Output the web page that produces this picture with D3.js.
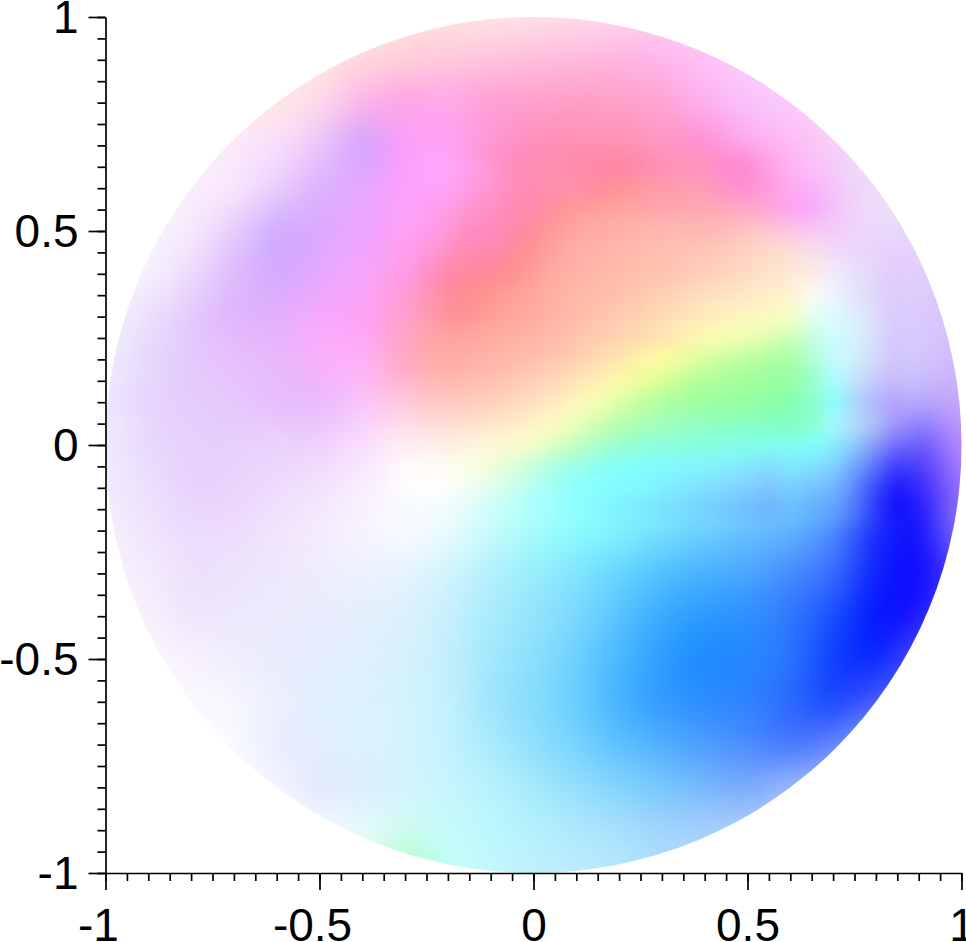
<!DOCTYPE html>
<html><head><meta charset="utf-8">
<script src="https://cdn.jsdelivr.net/npm/d3@7/dist/d3.min.js"></script>
<style>html,body{margin:0;background:#fff}svg{display:block}
.axis text{font-family:"Liberation Sans",Arial,sans-serif;font-size:46px;fill:#000}
.axis path,.axis line{stroke:#000;stroke-width:1.7px}</style></head>
<body><svg id="c" width="966" height="942"></svg>
<script>
const gridX = d3.range(-10, 11).map(d => d / 10);
const gridY = d3.range(10, -11, -1).map(d => d / 10);
const fineX = d3.range(-6, 18).map(d => d / 20);
const fineY = d3.range(13, -4, -1).map(d => d / 20);
const majorTicks = [-1, -0.5, 0, 0.5, 1];
const minorTicks = d3.range(-20, 21).map(d => d / 20);
// colour of the field read at every coarse node (row: y = 1 ... -1, column: x = -1 ... 1)
const colors = [
["#fff4f0","#fff4f0","#fff2ee","#fff0ea","#ffeee6","#ffece2","#ffe8e0","#ffe4de","#ffe2e0","#ffe4e6","#ffe4e8","#ffdce8","#ffd8ec","#ffd0f0","#ffccf8","#fcd0fc","#f8d8fc","#f6dafa","#f4dcf8","#f2dcf8","#f0dcf8"],
["#fff2f0","#fff2f0","#fff0ec","#ffeee8","#ffece4","#ffe8e0","#ffd8dc","#ffd0d8","#ffc8dc","#ffc4dc","#ffbcdc","#ffb8dc","#ffb4e0","#ffb4ec","#ffc4f8","#fccdfc","#f8d4fa","#f6d8f8","#f4dcf8","#f2dcf8","#f0dcf8"],
["#fff2f0","#fff0ee","#ffeeea","#ffece6","#ffe8e4","#ffdcec","#ffb0e8","#ffa0e4","#ffa8ec","#ff9cd4","#ffa0cc","#ff9cc4","#ffa0c8","#ffa4d0","#ffb0f4","#f8c4fc","#f8ccfc","#f8d4f8","#f4daf8","#f2dcf8","#f0dcf8"],
["#fbf4fc","#fbf2fc","#fbeffc","#fbe8fc","#fae0fc","#ecc4fc","#c8a0ff","#fca0fc","#ffa4f8","#ff98d4","#ff8cb8","#ff90b4","#ff90b0","#ff98c0","#ff88d0","#ffa8f0","#ffb8f4","#f8d4f8","#f2dcf8","#f0dcf8","#eedcf8"],
["#f8f4fc","#f8f2fc","#f8eefc","#fbe8fc","#eccffc","#d8b0ff","#e8a8ff","#f8a0ff","#ffa4f4","#ff88c8","#ff88b0","#ff8aa8","#ff9090","#ff98a8","#ff9cb4","#ff98cc","#ffa8ec","#f8b4fa","#f0d8f8","#ecd8fa","#ead8fa"],
["#f8f4fc","#f8f2fc","#f8ecfc","#e8ccfc","#c8a8ff","#dca8ff","#eca4ff","#fca0fc","#ff98d8","#ff88b8","#ff90a0","#ff9c94","#ffa49c","#ffa8a4","#ffb0ac","#ffbcc0","#fcb8e4","#f4c0fa","#eed4fb","#e8d4fc","#e6d2fc"],
["#f8f4fe","#f8f4fe","#ecdcfc","#deb8fc","#d0a8ff","#e4aaff","#f8a8ff","#ff9ce0","#ff88a8","#ff8c94","#ff9a98","#ffaca0","#ffb8a8","#ffc0ac","#ffc8b4","#ffd4c0","#fcdccc","#f0e0f0","#e8d8fa","#e4cefc","#e0c8fc"],
["#f6f2fe","#ecdffc","#e2c8fc","#deb4fc","#e4b0fc","#f8a8fc","#ffa0f8","#ffa0d0","#ff949c","#ffa098","#ffb0a4","#ffc0ac","#ffc8b0","#ffdcb8","#fff0b8","#fff6b4","#f8fcc8","#e8fffc","#e0e8fc","#dcc8fc","#dcc0fc"],
["#f0ecfe","#e4d8fc","#e4c8fc","#e8c0fc","#e8b8fc","#fcb0fc","#ffb0f8","#ffa8c8","#ffaca4","#ffb4a8","#ffc0b0","#ffd0b8","#fff0b8","#ffffa8","#e8ffb0","#c8ffa4","#a8ff98","#a8ffe0","#d8f4fc","#d4c8fc","#d0b8fc"],
["#eee8fc","#e6d4fc","#e4ccfc","#e4c8fc","#e6bcfc","#e4b8fc","#fcc4fc","#ffc8dc","#ffc8c0","#ffd0bc","#ffe0c8","#fff4c0","#f4ffb0","#b8ffa0","#a8ff98","#98ff98","#88ffa8","#90ffc0","#c0d8fc","#b8a8fc","#c8a8fc"],
["#f0ecfc","#e8d8fc","#e6d0fc","#e8d0fc","#ecd4fc","#eed0fc","#f8e0fc","#fff0f8","#ffeee4","#fff8d8","#f4ffc8","#d8ffc0","#a8ffc0","#90ffd0","#88ffd0","#84ffd8","#84ffd8","#88f0ff","#8898f8","#5848fc","#c090ff"],
["#f2ecfc","#ece0fc","#e6d0fc","#ead4fc","#eedcfc","#f2e4fc","#f8f0fe","#fdfcff","#fcfffc","#e0ffec","#ccfff0","#a0ffe4","#88fff0","#80ffff","#84f4ff","#88e0ff","#78d0ff","#70b8ff","#3848fc","#2818fc","#a078ff"],
["#f6f0fc","#f0e4fc","#ecdcfc","#eedcfc","#f2e4fc","#f6ecfc","#f8f4fe","#fafcff","#ecfcfe","#c4fcfc","#a4fffa","#88ffff","#84f4ff","#78e0ff","#70d0ff","#68c0ff","#60b8ff","#5090ff","#1828fc","#0808fc","#9080ff"],
["#f8f2fc","#f4ecfc","#ecdffc","#ece4fc","#eee8fc","#eeecfd","#ecf2fe","#e4f4fe","#d0f4fc","#b4f0fc","#98ecfc","#80e4ff","#64d4ff","#50c0ff","#48b0ff","#4aa8ff","#4888ff","#3870ff","#0c20ff","#0800ff","#5048ff"],
["#f8f2fc","#f8f0fc","#eee4fc","#eee8fc","#ecebfc","#e8ecfc","#e4effc","#dcf0fc","#c8f0fc","#a8ecfc","#94e4fc","#7cd8ff","#58c4ff","#38a8ff","#2898ff","#2c90ff","#3078ff","#1850ff","#0010ff","#1810ff","#7060ff"],
["#faf6fe","#faf6fe","#f8f2fc","#f0eefc","#e8ecfc","#e4eefc","#e0f0fc","#d4f2fc","#c4f0fc","#a0e8fc","#8ce0fc","#6cd0ff","#48b8ff","#2c9cff","#1888ff","#2488ff","#2c78ff","#0c3cff","#0020ff","#5050ff","#8080ff"],
["#fcfaff","#fcfaff","#fcf8ff","#f8f8fe","#ecf0fe","#e2f0fe","#dcf2fe","#d4f4fe","#c4f2fe","#a0e4fc","#84dcfc","#68d0ff","#44b0ff","#3098ff","#2c8cff","#2c84ff","#2c68ff","#1040ff","#4858ff","#7080ff","#8090ff"],
["#fcfcff","#fcfcff","#fcfcff","#fafcff","#e8eafe","#e4f0fe","#dcf2fe","#d4f4fe","#c4f2fe","#a8ecfc","#90e0fc","#74d4ff","#5cc0ff","#50b0ff","#4c9cff","#4c8cff","#4070ff","#6080fc","#a0b4fc","#a8bcfc","#a8bcfc"],
["#fcfcff","#fcfcff","#fcfcff","#fcfcff","#f4f8ff","#e0e4fe","#dcecfe","#d4f4fe","#c8f4fe","#b8f4fc","#a8e8fc","#94e0fc","#84d4fc","#78c8fc","#78b8fc","#78a8fc","#a0bcfc","#b0c8fc","#b8ccfc","#b8ccfc","#b8ccfc"],
["#fcfcff","#fcfcff","#fcfcff","#fcfcff","#fcfcff","#f4fcff","#e8fcff","#d0fcf0","#c4fcfc","#bcf8fc","#b0f4fc","#b0e8fc","#a8e0fc","#a0d4fc","#a8d0fc","#b0d0fc","#b8d4fc","#b8d4fc","#b8d4fc","#b8d4fc","#b8d4fc"],
["#fcfcff","#fcfcff","#fcfcff","#fcfcff","#fcfcff","#f4fcff","#e0fcf4","#a0ffb0","#c8fcfc","#c4f8fc","#c0f0fc","#c0ecfc","#b8e8fc","#b4e0fc","#b4dcfc","#b8d8fc","#b8d8fc","#b8d8fc","#b8d8fc","#b8d8fc","#b8d8fc"]
];
// finer reading of the central band (row: y = 0.65 ... -0.15, column: x = -0.3 ... 0.85)
const fineColors = [
["#fc9cfc","#fca8ff","#ffa8f8","#ffa0e8","#ff98d4","#ff8cbc","#ff90b8","#ff90b0","#ff8cac","#ff88a8","#ff84a8","#ff88ac","#ff90b8","#ff94bc","#ff94c4","#ff88d0","#ff88d0","#ffa0e0","#ffb4f4","#fcc0fc","#f4ccfa","#f0d8f8","#eedcf8","#ecdcf8"],
["#fca0fc","#fca4fc","#ffa4f4","#ff9ce4","#ff98d0","#ff8cbc","#ff8cb0","#ff90ac","#ff90a8","#ff8ca0","#ff9494","#ff98a0","#ff9cac","#ff9cb0","#ff9cb8","#ff94c8","#ff90d4","#ff9ce0","#ffa8f0","#fcb0fc","#f4c4fa","#f0d4f8","#eedcf8","#ecdcf8"],
["#fca4fc","#ffa0f4","#ff9ce4","#ff94d0","#ff90c4","#ff88b4","#ff8cac","#ff9098","#ff9c98","#ffa09c","#ffa4a0","#ffa4a4","#ffa8ac","#ffa8b0","#ffa8b4","#ffa8bc","#ffa8c8","#ffa4d8","#fca4f0","#f8a8fc","#f4c0fa","#f0d4f8","#eedcf8","#ecdcf8"],
["#ffa4f8","#ff9ce8","#ff98d8","#ff8cc0","#ff8cbc","#ff88ac","#ff8c98","#ff9c98","#ffa8a0","#ffaca4","#ffb0a8","#ffb4ac","#ffb8b0","#ffb8b0","#ffb8b4","#ffbcb8","#ffc4c0","#ffc8d4","#fcc4e4","#f8c8f4","#f4ccfa","#f0d4fa","#ecd8fb","#e8d8fc"],
["#ffa0f0","#ff98dc","#ff90c0","#ff88b0","#ff88b0","#ff8c9c","#ff9494","#ffa4a0","#ffb0a8","#ffb4a8","#ffb8ac","#ffbcb0","#ffc0b0","#ffc4b4","#ffc8b8","#ffccbc","#ffd4c0","#ffdcc8","#fce0d4","#f8e0ec","#f2dcf8","#ecd8fa","#e8d4fc","#e6d0fc"],
["#ff9ce8","#ff90c8","#ff88a8","#ff8ca0","#ff8898","#ff9090","#ffa098","#ffaca0","#ffb4a8","#ffb8a8","#ffbcac","#ffc0ac","#ffc4b0","#ffc8b4","#ffd0b8","#ffd4bc","#ffdcc4","#ffe4cc","#ffe8d4","#fcece4","#f0ecfc","#e8e0fc","#e4d4fc","#e0ccfc"],
["#ff9cd8","#ff94b8","#ff8c9c","#ff8c8c","#ff9890","#ffa098","#ffa8a0","#ffb0a4","#ffb8a8","#ffbca8","#ffc0ac","#ffc8ac","#ffd0b0","#ffd8b8","#ffe0bc","#ffe4c0","#ffeac4","#ffeec8","#fff4d4","#fcfcf8","#ecf4ff","#e4e4fc","#e0d4fc","#dcc8fc"],
["#ffa0d0","#ff9cb0","#ff949c","#ff9494","#ffa098","#ffa89c","#ffaca0","#ffb4a4","#ffbca8","#ffc4ac","#ffccb0","#ffd4b0","#ffdcb4","#ffe4b8","#ffecbc","#fff4bc","#fff8c0","#fffcbc","#f4ffc4","#e4fff0","#dcfcff","#dceefc","#dcdcfc","#d8c8fc"],
["#ffa4cc","#ffa4ac","#ffa4a0","#ffa4a0","#ffaca0","#ffb0a4","#ffb4a8","#ffbca8","#ffc4ac","#ffccb0","#ffd4b0","#ffdcb0","#ffe4b0","#fff0b0","#fffcb0","#f8ffb0","#ecffb0","#dcffb0","#ccffb8","#c4ffe0","#ccfcff","#d4f4fc","#d8dcfc","#d4c4fc"],
["#ffa8c8","#ffaca8","#ffaca4","#ffb0a8","#ffb4a8","#ffbca8","#ffc0ac","#ffc8b0","#ffd0b0","#ffdcb0","#ffe8b0","#fff4a8","#ffffa0","#ecff9c","#d8ffa0","#c8ffa0","#bcffa0","#b0ffa0","#a8ffa4","#b0ffd4","#c4fcff","#d0f0fc","#d4d8fc","#d0c0fc"],
["#ffb4d0","#ffb8bc","#ffb8b0","#ffbcb0","#ffc0b0","#ffc8b4","#ffd0b8","#ffd8b8","#ffe4b8","#fff0b4","#fffca8","#f0ff9c","#d8ff98","#c0ff9c","#b0ff9c","#a8ff9c","#a0ff9c","#98ff9c","#94ffa4","#98ffc8","#a8ffff","#c4e4fc","#c8c8fc","#c8b8fc"],
["#ffc8dc","#ffc8c8","#ffc8c0","#ffccbc","#ffd0bc","#ffd8c0","#ffe0c0","#ffecc0","#fff8bc","#f8ffb0","#dcffa8","#c4ffa0","#b0ff9c","#a4ffa0","#9cff9c","#98ffa0","#94ffa0","#90ffa8","#88ffb0","#88ffc8","#88ffff","#a8d8fc","#b0b4fc","#b4a0fc"],
["#ffdcec","#ffdcdc","#ffdcd4","#ffe0d0","#ffe4cc","#ffecc8","#fff4c8","#fffcc0","#ecffb8","#d0ffb0","#b8ffb0","#a8ffb4","#a0ffbc","#98ffc0","#90ffc0","#8cffc0","#88ffc4","#84ffc4","#80ffc4","#88ffc8","#a8fcff","#b8dcfc","#b0c0f8","#a090fc"],
["#ffeaf4","#ffeeec","#ffeee4","#fff4dc","#fff8d8","#fffcd0","#f4ffc8","#d8ffc0","#c0ffc0","#a8ffc8","#98ffcc","#90ffd4","#8cffdc","#88ffdc","#84ffe0","#84ffe4","#80ffe8","#80ffec","#80fff0","#80ffff","#88f0ff","#90c8fc","#8898f8","#7068fc"],
["#fffafc","#fffcf8","#fffcf0","#fcffe8","#f0ffd8","#dcffd8","#c0ffdc","#a8ffe4","#98ffec","#8cfff4","#84fffc","#80ffff","#80fcff","#80f8ff","#84f4ff","#84f0ff","#84e8ff","#84dcff","#80ecff","#84e0ff","#80d4ff","#70a8fc","#5870fc","#3c38fc"],
["#fdfcff","#ffffff","#fcfffc","#f0fff4","#e0ffec","#ccfff0","#b4fff4","#a0fff8","#90ffff","#88ffff","#80fcff","#80f8ff","#80f0ff","#80e8ff","#80e0ff","#80d8ff","#80d0ff","#80c4ff","#78d0ff","#78c4ff","#70b8ff","#6088fc","#3848fc","#1c18fc"],
["#f4f8fe","#f4fbfe","#ecfcfc","#dcfcfc","#ccfcfc","#b8fffc","#a8fffc","#98ffff","#8cffff","#84f8ff","#80f0ff","#7ce8ff","#78e0ff","#78d8ff","#74d0ff","#70c8ff","#6cbcff","#6cb0ff","#68c0ff","#60b0ff","#60a4ff","#5078fc","#2838fc","#0c0cfc"]
];
const cells = colors.flatMap((row, j) => row.map((fill, i) => ({ x: gridX[i], y: gridY[j], fill })));
const fineCells = fineColors.flatMap((row, j) => row.map((fill, i) => ({ x: fineX[i], y: fineY[j], fill })));

const x = d3.scaleLinear().domain([-1, 1]).range([105.5, 961.5]);
const y = d3.scaleLinear().domain([-1, 1]).range([873, 17]);
const svg = d3.select("#c");
const defs = svg.append("defs");
defs.append("clipPath").attr("id", "disk").append("ellipse")
  .attr("cx", x(0)).attr("cy", y(0)).attr("rx", x(1) - x(0)).attr("ry", y(0) - y(1));
const blur = (id, s) => defs.append("filter").attr("id", id).attr("filterUnits", "userSpaceOnUse")
  .attr("x", -100).attr("y", -100).attr("width", 1200).attr("height", 1200)
  .attr("color-interpolation-filters", "sRGB")
  .append("feGaussianBlur").attr("stdDeviation", s);
blur("soft", 19);
blur("softFine", 9);

const disk = svg.append("g").attr("clip-path", "url(#disk)");
const half = 0.05, far = 0.3;
const x0 = d => d.x === -1 ? -1 - far : d.x - half, x1 = d => d.x === 1 ? 1 + far : d.x + half;
const y0 = d => d.y === -1 ? -1 - far : d.y - half, y1 = d => d.y === 1 ? 1 + far : d.y + half;
disk.append("g").attr("filter", "url(#soft)")
  .selectAll("rect").data(cells).join("rect")
  .attr("x", d => x(x0(d))).attr("y", d => y(y1(d)))
  .attr("width", d => x(x1(d)) - x(x0(d)) + 0.5).attr("height", d => y(y0(d)) - y(y1(d)) + 0.5)
  .attr("fill", d => d.fill);
const h = 0.025;
disk.append("g").attr("filter", "url(#softFine)")
  .selectAll("rect").data(fineCells).join("rect")
  .attr("x", d => x(d.x - h)).attr("y", d => y(d.y + h))
  .attr("width", x(2 * h) - x(0) + 0.5).attr("height", y(0) - y(2 * h) + 0.5)
  .attr("fill", d => d.fill);

const fmt = d3.format("~g");
const plain = v => fmt(v).replace("−", "-");
const axisL = g => {
  g.append("g").attr("class", "axis").attr("transform", `translate(${x(-1)},0)`)
    .call(d3.axisLeft(y).tickValues(minorTicks).tickSize(8).tickSizeOuter(0).tickFormat(""));
  const m = g.append("g").attr("class", "axis").attr("transform", `translate(${x(-1)},0)`)
    .call(d3.axisLeft(y).tickValues(majorTicks).tickSize(17).tickPadding(10).tickSizeOuter(0).tickFormat(plain));
  m.select(".domain").remove();
  m.attr("font-family", null).attr("font-size", null);
  m.selectAll("text").attr("dy", "0.34em");
};
const axisB = g => {
  g.append("g").attr("class", "axis").attr("transform", `translate(0,${y(-1)})`)
    .call(d3.axisBottom(x).tickValues(minorTicks).tickSize(8).tickSizeOuter(0).tickFormat(""));
  const m = g.append("g").attr("class", "axis").attr("transform", `translate(0,${y(-1)})`)
    .call(d3.axisBottom(x).tickValues(majorTicks).tickSize(17).tickPadding(18).tickSizeOuter(0).tickFormat(plain));
  m.select(".domain").remove();
  m.attr("font-family", null).attr("font-size", null);
  m.selectAll("text").attr("dy", "0.71em").attr("dx", d => d < 0 ? -7.5 : 0);
};
svg.append("g").call(axisL);
svg.append("g").call(axisB);
</script></body></html>
